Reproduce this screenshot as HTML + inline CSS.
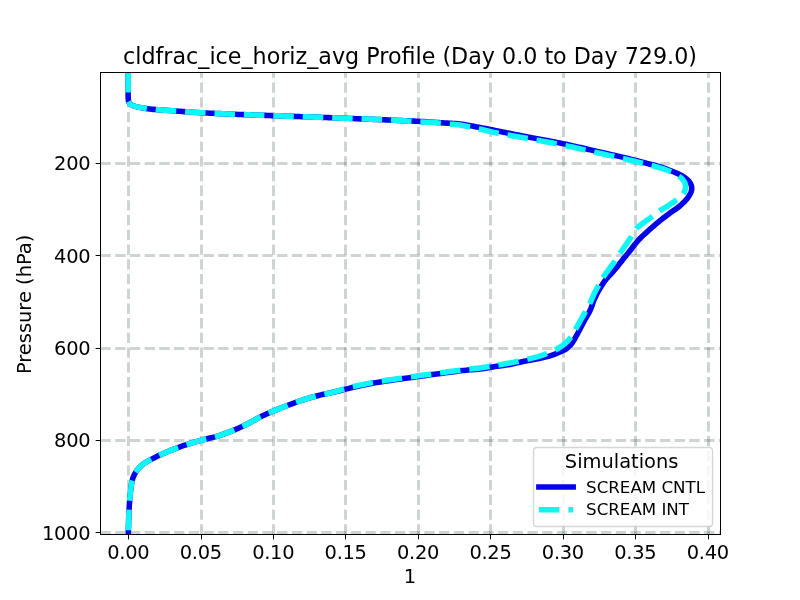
<!DOCTYPE html>
<html lang="en"><head><meta charset="utf-8"><title>cldfrac_ice_horiz_avg Profile</title>
<style>html,body{margin:0;padding:0;background:#fff}svg{display:block;will-change:transform}text{font-family:"DejaVu Sans","Liberation Sans",sans-serif;fill:#000}</style></head><body>
<svg width="800" height="600" viewBox="0 0 800 600">
<rect width="800" height="600" fill="#fff"/>
<defs><clipPath id="ax"><rect x="100" y="72" width="620" height="462"/></clipPath></defs>
<g clip-path="url(#ax)" stroke="#3a4f4f" stroke-opacity="0.25" stroke-width="3" stroke-dasharray="10.278 4.444" fill="none">
<path d="M128.5 534.5V72.5"/>
<path d="M201.5 534.5V72.5"/>
<path d="M273.5 534.5V72.5"/>
<path d="M345.5 534.5V72.5"/>
<path d="M418.5 534.5V72.5"/>
<path d="M490.5 534.5V72.5"/>
<path d="M563.5 534.5V72.5"/>
<path d="M635.5 534.5V72.5"/>
<path d="M708.5 534.5V72.5"/>
<path d="M100.5 163.5H720.5"/>
<path d="M100.5 255.5H720.5"/>
<path d="M100.5 348.5H720.5"/>
<path d="M100.5 440.5H720.5"/>
<path d="M100.5 532.5H720.5"/>
</g>
<g stroke="#000" stroke-width="1" fill="none">
<path d="M128.5 534.5V539.4"/>
<path d="M201.5 534.5V539.4"/>
<path d="M273.5 534.5V539.4"/>
<path d="M345.5 534.5V539.4"/>
<path d="M418.5 534.5V539.4"/>
<path d="M490.5 534.5V539.4"/>
<path d="M563.5 534.5V539.4"/>
<path d="M635.5 534.5V539.4"/>
<path d="M708.5 534.5V539.4"/>
<path d="M100.5 163.5H95.6"/>
<path d="M100.5 255.5H95.6"/>
<path d="M100.5 348.5H95.6"/>
<path d="M100.5 440.5H95.6"/>
<path d="M100.5 532.5H95.6"/>
</g>
<g font-size="19.444" text-anchor="middle">
<text x="128.33" y="558.5" letter-spacing="-0.3">0.00</text>
<text x="200.76" y="558.5" letter-spacing="-0.3">0.05</text>
<text x="273.19" y="558.5" letter-spacing="-0.3">0.10</text>
<text x="345.62" y="558.5" letter-spacing="-0.3">0.15</text>
<text x="418.05" y="558.5" letter-spacing="-0.3">0.20</text>
<text x="490.48" y="558.5" letter-spacing="-0.3">0.25</text>
<text x="562.91" y="558.5" letter-spacing="-0.3">0.30</text>
<text x="635.34" y="558.5" letter-spacing="-0.3">0.35</text>
<text x="707.77" y="558.5" letter-spacing="-0.3">0.40</text>
<text x="410" y="582.87">1</text>
<text transform="translate(31.19 304.4) rotate(-90)">Pressure (hPa)</text>
</g>
<g font-size="19.444" text-anchor="end" letter-spacing="-0.3">
<text x="90.28" y="170.49">200</text>
<text x="90.28" y="262.79">400</text>
<text x="90.28" y="355.09">600</text>
<text x="90.28" y="447.39">800</text>
<text x="90.28" y="539.69">1000</text>
</g>
<g clip-path="url(#ax)" fill="none" stroke-width="5.556" stroke-linejoin="round">
<path d="M128.18 72.00 L128.18 74.04 L128.18 76.14 L128.18 78.27 L128.18 80.40 L128.18 82.49 L128.18 84.53 L128.18 86.48 L128.18 88.32 L128.18 90.00 L128.17 92.31 L128.14 94.42 L128.14 96.32 L128.18 98.00 L128.50 101.30 L129.80 103.80 L133.00 105.60 L135.28 106.35 L138.00 107.00 L139.66 107.35 L141.49 107.70 L143.48 108.05 L145.57 108.39 L147.76 108.71 L150.00 109.00 L151.79 109.21 L153.67 109.39 L155.62 109.57 L157.63 109.73 L159.68 109.88 L161.75 110.03 L163.84 110.17 L165.92 110.31 L167.98 110.45 L170.00 110.60 L172.02 110.75 L174.07 110.90 L176.15 111.05 L178.22 111.20 L180.29 111.34 L182.34 111.48 L184.34 111.62 L186.30 111.75 L188.19 111.88 L190.00 112.00 L192.17 112.15 L194.13 112.28 L196.01 112.41 L197.94 112.53 L200.06 112.66 L202.50 112.80 L204.08 112.89 L205.78 112.97 L207.57 113.06 L209.46 113.16 L211.43 113.25 L213.47 113.35 L215.57 113.45 L217.72 113.55 L219.92 113.65 L222.15 113.75 L224.40 113.85 L226.67 113.94 L228.93 114.04 L231.20 114.14 L233.45 114.23 L235.67 114.32 L237.86 114.41 L240.00 114.50 L241.96 114.58 L243.90 114.65 L245.84 114.73 L247.76 114.80 L249.68 114.87 L251.60 114.93 L253.52 115.00 L255.44 115.07 L257.37 115.13 L259.31 115.20 L261.27 115.26 L263.24 115.33 L265.23 115.40 L267.25 115.46 L269.29 115.53 L271.36 115.60 L273.46 115.67 L275.60 115.75 L277.78 115.82 L280.00 115.90 L281.80 115.96 L283.64 116.03 L285.51 116.10 L287.41 116.16 L289.34 116.23 L291.29 116.30 L293.27 116.37 L295.27 116.44 L297.30 116.51 L299.34 116.58 L301.39 116.66 L303.46 116.73 L305.55 116.80 L307.64 116.88 L309.75 116.95 L311.86 117.03 L313.97 117.10 L316.09 117.18 L318.21 117.26 L320.33 117.33 L322.45 117.41 L324.56 117.49 L326.67 117.56 L328.76 117.64 L330.85 117.72 L332.92 117.79 L334.98 117.87 L337.03 117.95 L339.05 118.02 L341.06 118.10 L343.04 118.17 L345.00 118.25 L347.13 118.33 L349.29 118.42 L351.46 118.50 L353.65 118.59 L355.85 118.67 L358.05 118.76 L360.26 118.85 L362.48 118.94 L364.68 119.03 L366.88 119.12 L369.08 119.21 L371.25 119.30 L373.42 119.38 L375.56 119.47 L377.68 119.56 L379.77 119.65 L381.83 119.73 L383.85 119.82 L385.84 119.90 L387.79 119.98 L389.70 120.06 L391.55 120.14 L393.36 120.22 L395.11 120.29 L396.80 120.36 L398.43 120.43 L400.00 120.50 L402.39 120.60 L404.60 120.69 L406.66 120.78 L408.62 120.86 L410.49 120.94 L412.33 121.02 L414.16 121.10 L416.03 121.19 L417.96 121.29 L420.00 121.40 L421.97 121.51 L424.00 121.64 L426.08 121.77 L428.19 121.91 L430.32 122.05 L432.44 122.19 L434.56 122.34 L436.66 122.48 L438.71 122.62 L440.71 122.76 L442.65 122.88 L444.50 123.00 L446.90 123.13 L449.20 123.23 L451.42 123.31 L453.59 123.41 L455.72 123.52 L457.85 123.68 L460.00 123.90 L462.10 124.18 L464.17 124.51 L466.23 124.88 L468.28 125.28 L470.34 125.69 L472.41 126.10 L474.50 126.50 L476.72 126.91 L478.99 127.32 L481.29 127.74 L483.57 128.17 L485.81 128.59 L487.96 129.00 L490.00 129.40 L492.07 129.82 L493.94 130.22 L495.78 130.61 L497.75 131.03 L500.00 131.50 L501.67 131.84 L503.45 132.19 L505.33 132.57 L507.29 132.95 L509.34 133.35 L511.45 133.77 L513.62 134.19 L515.84 134.62 L518.10 135.06 L520.38 135.50 L522.69 135.95 L525.00 136.40 L526.85 136.76 L528.75 137.12 L530.69 137.49 L532.68 137.86 L534.69 138.24 L536.74 138.62 L538.81 139.01 L540.91 139.40 L543.02 139.80 L545.14 140.19 L547.27 140.60 L549.40 141.00 L551.53 141.41 L553.65 141.82 L555.76 142.23 L557.86 142.65 L559.93 143.06 L561.98 143.48 L564.00 143.90 L566.04 144.33 L568.10 144.77 L570.16 145.23 L572.24 145.68 L574.32 146.15 L576.40 146.62 L578.47 147.09 L580.53 147.56 L582.58 148.04 L584.61 148.51 L586.62 148.97 L588.60 149.44 L590.56 149.89 L592.47 150.34 L594.35 150.77 L596.18 151.20 L597.97 151.61 L599.70 152.00 L601.97 152.51 L604.17 153.01 L606.30 153.48 L608.36 153.95 L610.38 154.40 L612.35 154.84 L614.29 155.28 L616.21 155.72 L618.11 156.16 L620.00 156.60 L622.35 157.16 L624.65 157.71 L626.91 158.26 L629.13 158.81 L631.30 159.35 L633.43 159.88 L635.50 160.40 L637.90 161.01 L640.19 161.61 L642.43 162.20 L644.68 162.79 L647.00 163.40 L649.12 163.94 L651.26 164.46 L653.43 164.99 L655.62 165.55 L657.81 166.14 L660.00 166.80 L662.03 167.46 L664.12 168.19 L666.24 168.96 L668.33 169.74 L670.35 170.53 L672.26 171.29 L674.00 172.00 L676.57 173.08 L678.87 174.11 L681.00 175.20 L683.64 176.79 L686.00 178.50 L687.90 180.17 L689.50 182.00 L690.70 183.94 L691.50 186.00 L691.75 187.99 L691.60 190.00 L691.07 192.00 L690.20 194.00 L688.75 196.43 L687.00 198.80 L685.09 200.94 L683.00 203.00 L681.44 204.50 L679.80 206.00 L678.00 207.50 L676.17 208.84 L674.18 210.17 L672.10 211.54 L670.00 213.00 L668.39 214.19 L666.73 215.43 L665.05 216.72 L663.35 218.03 L661.67 219.36 L660.00 220.70 L658.32 222.07 L656.64 223.46 L654.98 224.87 L653.31 226.30 L651.65 227.74 L650.00 229.20 L648.28 230.74 L646.51 232.32 L644.75 233.93 L643.05 235.52 L641.45 237.05 L640.00 238.50 L638.17 240.46 L636.58 242.30 L635.00 244.20 L633.76 245.76 L632.56 247.35 L631.32 248.98 L630.00 250.70 L628.61 252.45 L627.13 254.29 L625.59 256.18 L624.04 258.09 L622.50 260.00 L621.19 261.65 L619.88 263.31 L618.56 264.99 L617.23 266.67 L615.88 268.34 L614.50 270.00 L613.02 271.67 L611.48 273.33 L609.92 274.98 L608.37 276.63 L606.88 278.30 L605.50 280.00 L604.06 281.96 L602.70 283.94 L601.41 285.95 L600.18 287.97 L599.00 290.00 L597.90 291.98 L596.85 293.97 L595.85 295.97 L594.90 297.98 L594.00 300.00 L593.21 301.99 L592.52 304.00 L591.84 306.01 L591.13 308.02 L590.30 310.00 L589.29 312.02 L588.17 314.02 L587.00 316.01 L585.83 318.00 L584.70 320.00 L583.64 322.00 L582.61 324.00 L581.58 326.00 L580.55 328.00 L579.50 330.00 L578.40 332.06 L577.28 334.18 L576.15 336.27 L575.05 338.23 L574.00 340.00 L572.84 341.85 L571.73 343.48 L570.50 345.00 L569.12 346.45 L567.62 347.79 L566.00 349.00 L564.16 350.09 L562.17 351.05 L560.00 352.00 L558.19 352.78 L556.25 353.57 L554.21 354.36 L552.12 355.11 L550.00 355.80 L548.09 356.36 L546.13 356.87 L544.14 357.36 L542.12 357.81 L540.07 358.26 L538.00 358.70 L536.06 359.10 L534.08 359.47 L532.08 359.83 L530.06 360.18 L528.03 360.54 L526.01 360.91 L524.00 361.30 L522.00 361.73 L520.01 362.18 L518.03 362.64 L516.04 363.11 L514.04 363.57 L512.03 364.00 L510.00 364.40 L507.89 364.77 L505.76 365.10 L503.61 365.40 L501.46 365.70 L499.30 365.99 L497.15 366.28 L495.00 366.60 L492.85 366.94 L490.70 367.31 L488.55 367.68 L486.40 368.04 L484.25 368.39 L482.12 368.72 L480.00 369.00 L478.02 369.22 L476.12 369.39 L474.24 369.53 L472.33 369.66 L470.36 369.80 L468.26 369.98 L466.00 370.20 L464.23 370.40 L462.36 370.61 L460.41 370.85 L458.38 371.10 L456.28 371.37 L454.14 371.65 L451.96 371.93 L449.75 372.23 L447.52 372.53 L445.30 372.83 L443.08 373.13 L440.88 373.42 L438.72 373.72 L436.60 374.00 L434.52 374.28 L432.45 374.56 L430.37 374.84 L428.30 375.12 L426.23 375.40 L424.16 375.69 L422.09 375.97 L420.02 376.26 L417.95 376.55 L415.88 376.84 L413.81 377.13 L411.74 377.42 L409.67 377.71 L407.60 378.00 L405.50 378.30 L403.34 378.60 L401.14 378.91 L398.92 379.22 L396.69 379.53 L394.47 379.84 L392.26 380.15 L390.09 380.46 L387.97 380.77 L385.91 381.07 L383.93 381.37 L382.04 381.65 L380.26 381.93 L378.60 382.20 L376.02 382.63 L373.77 383.03 L371.67 383.42 L369.54 383.83 L367.20 384.30 L365.22 384.71 L363.17 385.14 L361.06 385.60 L358.90 386.07 L356.69 386.56 L354.47 387.07 L352.23 387.58 L350.00 388.10 L348.00 388.58 L345.88 389.09 L343.69 389.64 L341.47 390.20 L339.26 390.76 L337.11 391.30 L335.07 391.81 L333.17 392.27 L331.47 392.67 L330.00 393.00 L327.52 393.44 L325.00 393.90 L323.53 394.24 L321.80 394.66 L319.85 395.15 L317.74 395.69 L315.51 396.28 L313.21 396.90 L310.88 397.54 L308.56 398.20 L306.32 398.85 L304.18 399.49 L302.20 400.10 L300.01 400.81 L297.88 401.55 L295.79 402.29 L293.76 403.05 L291.76 403.80 L289.80 404.55 L287.89 405.28 L286.00 406.00 L283.90 406.79 L281.88 407.56 L279.91 408.31 L277.97 409.07 L276.01 409.86 L274.00 410.70 L272.13 411.50 L270.23 412.33 L268.33 413.19 L266.42 414.06 L264.50 414.95 L262.60 415.87 L260.70 416.80 L258.78 417.79 L256.86 418.81 L254.95 419.87 L253.05 420.93 L251.14 421.99 L249.22 423.01 L247.30 424.00 L245.42 424.93 L243.55 425.83 L241.69 426.71 L239.81 427.58 L237.91 428.43 L235.98 429.27 L234.00 430.10 L232.08 430.88 L230.13 431.67 L228.14 432.45 L226.12 433.21 L224.09 433.95 L222.06 434.67 L220.02 435.36 L218.00 436.00 L216.01 436.58 L214.02 437.11 L212.01 437.60 L210.01 438.06 L208.00 438.52 L206.00 438.99 L204.00 439.48 L202.00 440.00 L199.99 440.56 L197.99 441.12 L195.99 441.70 L193.98 442.29 L191.98 442.89 L189.99 443.51 L187.99 444.15 L186.00 444.80 L183.99 445.48 L181.98 446.17 L179.98 446.88 L177.98 447.61 L175.98 448.35 L173.98 449.12 L171.99 449.90 L170.00 450.70 L167.96 451.54 L165.90 452.41 L163.83 453.31 L161.77 454.22 L159.73 455.14 L157.75 456.07 L155.83 456.99 L154.00 457.90 L152.04 458.89 L150.13 459.87 L148.29 460.84 L146.53 461.84 L144.86 462.89 L143.30 464.00 L141.41 465.55 L139.68 467.18 L138.11 468.89 L136.70 470.70 L135.48 472.56 L134.41 474.51 L133.49 476.55 L132.70 478.70 L132.14 480.68 L131.72 482.74 L131.38 484.87 L131.09 487.07 L130.80 489.30 L130.53 491.42 L130.28 493.60 L130.06 495.82 L129.86 498.08 L129.68 500.38 L129.50 502.70 L129.37 504.63 L129.25 506.61 L129.14 508.61 L129.03 510.63 L128.94 512.66 L128.86 514.69 L128.78 516.71 L128.70 518.70 L128.62 520.90 L128.56 523.10 L128.50 525.28 L128.45 527.46 L128.40 529.64 L128.35 531.82 L128.30 534.00" stroke="#0503e8" stroke-linecap="square"/>
<path d="M128.18 72.00 L128.18 74.04 L128.18 76.14 L128.18 78.27 L128.18 80.40 L128.18 82.49 L128.18 84.53 L128.18 86.48 L128.18 88.32 L128.18 90.00 L128.17 92.31 L128.14 94.42 L128.14 96.32 L128.18 98.00 L128.50 101.30 L129.80 103.80 L133.00 105.60 L135.28 106.35 L138.00 107.00 L139.66 107.35 L141.49 107.70 L143.48 108.05 L145.57 108.39 L147.76 108.71 L150.00 109.00 L151.79 109.21 L153.67 109.39 L155.62 109.57 L157.63 109.73 L159.68 109.88 L161.75 110.03 L163.84 110.17 L165.92 110.31 L167.98 110.45 L170.00 110.60 L172.02 110.75 L174.07 110.90 L176.15 111.05 L178.22 111.20 L180.29 111.34 L182.34 111.48 L184.34 111.62 L186.30 111.75 L188.19 111.88 L190.00 112.00 L192.17 112.15 L194.13 112.28 L196.01 112.41 L197.94 112.53 L200.06 112.66 L202.50 112.80 L204.08 112.89 L205.78 112.97 L207.57 113.06 L209.46 113.16 L211.43 113.25 L213.47 113.35 L215.57 113.45 L217.72 113.55 L219.92 113.65 L222.15 113.75 L224.40 113.85 L226.67 113.94 L228.93 114.04 L231.20 114.14 L233.45 114.23 L235.67 114.32 L237.86 114.41 L240.00 114.50 L241.96 114.58 L243.90 114.65 L245.84 114.73 L247.76 114.80 L249.68 114.87 L251.60 114.93 L253.52 115.00 L255.44 115.07 L257.37 115.13 L259.31 115.20 L261.27 115.26 L263.24 115.33 L265.23 115.40 L267.25 115.46 L269.29 115.53 L271.36 115.60 L273.46 115.67 L275.60 115.75 L277.78 115.82 L280.00 115.90 L281.80 115.96 L283.64 116.03 L285.51 116.10 L287.41 116.16 L289.34 116.23 L291.29 116.30 L293.27 116.37 L295.27 116.44 L297.30 116.51 L299.34 116.58 L301.39 116.66 L303.46 116.73 L305.55 116.80 L307.64 116.88 L309.75 116.95 L311.86 117.03 L313.97 117.10 L316.09 117.18 L318.21 117.26 L320.33 117.33 L322.45 117.41 L324.56 117.49 L326.67 117.56 L328.76 117.64 L330.85 117.72 L332.92 117.79 L334.98 117.87 L337.03 117.95 L339.05 118.02 L341.06 118.10 L343.04 118.17 L345.00 118.25 L347.13 118.33 L349.29 118.41 L351.46 118.49 L353.65 118.58 L355.85 118.66 L358.05 118.74 L360.27 118.82 L362.48 118.90 L364.68 118.98 L366.89 119.06 L369.08 119.15 L371.26 119.23 L373.42 119.31 L375.56 119.39 L377.68 119.48 L379.77 119.56 L381.83 119.64 L383.86 119.73 L385.85 119.81 L387.79 119.89 L389.70 119.98 L391.56 120.06 L393.36 120.15 L395.11 120.24 L396.80 120.32 L398.43 120.41 L400.00 120.50 L402.43 120.65 L404.75 120.81 L406.95 120.98 L409.04 121.15 L411.05 121.32 L412.97 121.49 L414.82 121.64 L416.60 121.78 L418.32 121.90 L420.00 122.00 L422.19 122.09 L424.15 122.13 L426.02 122.16 L427.93 122.21 L430.00 122.30 L431.98 122.43 L434.07 122.59 L436.22 122.77 L438.41 122.98 L440.63 123.18 L442.83 123.39 L445.00 123.60 L447.14 123.79 L449.29 123.97 L451.43 124.16 L453.58 124.35 L455.72 124.57 L457.86 124.81 L460.00 125.10 L462.15 125.44 L464.29 125.81 L466.44 126.21 L468.58 126.64 L470.72 127.09 L472.86 127.54 L475.00 128.00 L477.17 128.48 L479.38 128.99 L481.59 129.51 L483.78 130.04 L485.93 130.56 L488.02 131.05 L490.00 131.50 L492.05 131.95 L493.92 132.36 L495.77 132.75 L497.74 133.16 L500.00 133.60 L501.67 133.92 L503.45 134.24 L505.33 134.58 L507.29 134.92 L509.34 135.27 L511.45 135.64 L513.62 136.01 L515.84 136.39 L518.10 136.78 L520.38 137.18 L522.69 137.58 L525.00 138.00 L526.85 138.34 L528.75 138.68 L530.70 139.03 L532.68 139.39 L534.70 139.75 L536.74 140.12 L538.82 140.50 L540.91 140.88 L543.02 141.26 L545.14 141.66 L547.27 142.05 L549.40 142.45 L551.53 142.85 L553.65 143.25 L555.76 143.66 L557.86 144.07 L559.93 144.48 L561.98 144.89 L564.00 145.30 L566.04 145.72 L568.10 146.16 L570.16 146.60 L572.24 147.06 L574.32 147.52 L576.40 147.98 L578.47 148.45 L580.53 148.92 L582.58 149.38 L584.61 149.85 L586.62 150.31 L588.60 150.77 L590.56 151.22 L592.47 151.66 L594.35 152.09 L596.18 152.51 L597.97 152.91 L599.70 153.30 L601.97 153.80 L604.17 154.29 L606.30 154.76 L608.36 155.21 L610.38 155.65 L612.35 156.08 L614.29 156.51 L616.21 156.94 L618.11 157.37 L620.00 157.80 L622.35 158.34 L624.65 158.89 L626.91 159.43 L629.13 159.96 L631.30 160.48 L633.43 161.00 L635.50 161.50 L637.90 162.08 L640.19 162.62 L642.43 163.16 L644.68 163.72 L647.00 164.30 L649.16 164.85 L651.40 165.43 L653.65 166.02 L655.88 166.62 L658.01 167.22 L660.00 167.80 L662.16 168.46 L664.17 169.11 L666.10 169.77 L668.00 170.50 L670.43 171.53 L672.79 172.65 L675.00 173.80 L677.64 175.34 L680.00 177.00 L681.91 178.65 L683.50 180.50 L684.74 182.69 L685.50 185.00 L685.59 187.03 L685.30 189.00 L684.00 192.50 L682.65 194.29 L681.00 196.00 L679.10 197.76 L677.00 199.50 L675.26 200.83 L673.41 202.17 L671.50 203.50 L669.35 204.94 L667.14 206.38 L665.00 207.70 L662.51 209.05 L660.00 210.50 L658.21 211.78 L656.33 213.27 L654.41 214.82 L652.50 216.30 L650.64 217.65 L648.78 218.97 L646.90 220.30 L645.00 221.70 L643.27 222.97 L641.47 224.26 L639.68 225.60 L638.00 227.01 L636.50 228.50 L635.06 230.39 L633.85 232.41 L632.71 234.47 L631.50 236.50 L630.16 238.51 L628.78 240.51 L627.39 242.50 L626.00 244.50 L624.62 246.49 L623.24 248.48 L621.87 250.48 L620.50 252.50 L619.40 254.19 L618.30 255.91 L617.21 257.63 L616.11 259.34 L615.00 261.00 L613.64 262.92 L612.26 264.79 L610.88 266.64 L609.50 268.50 L608.11 270.36 L606.71 272.20 L605.33 274.07 L604.00 276.00 L602.70 278.06 L601.45 280.16 L600.22 282.31 L599.00 284.50 L597.97 286.36 L596.94 288.26 L595.93 290.18 L594.94 292.10 L594.00 294.00 L592.95 296.28 L591.97 298.57 L591.00 300.82 L590.00 303.00 L589.03 304.92 L588.05 306.76 L587.04 308.60 L586.00 310.50 L585.04 312.25 L584.05 314.05 L583.03 315.87 L582.01 317.70 L581.00 319.50 L580.00 321.27 L579.00 323.03 L578.00 324.79 L577.00 326.55 L576.00 328.30 L575.02 330.07 L574.07 331.87 L573.10 333.65 L572.09 335.38 L571.00 337.00 L569.63 338.77 L568.18 340.43 L566.64 342.00 L565.00 343.50 L563.15 345.00 L561.18 346.42 L559.12 347.75 L557.00 349.00 L555.18 349.97 L553.30 350.87 L551.37 351.72 L549.43 352.52 L547.50 353.30 L545.64 354.03 L543.81 354.71 L541.95 355.35 L540.03 355.98 L538.00 356.60 L536.15 357.12 L534.21 357.63 L532.20 358.12 L530.15 358.61 L528.09 359.08 L526.03 359.55 L524.00 360.00 L522.01 360.44 L520.02 360.87 L518.03 361.30 L516.04 361.71 L514.04 362.11 L512.03 362.51 L510.00 362.90 L507.89 363.29 L505.76 363.68 L503.61 364.05 L501.46 364.42 L499.30 364.78 L497.15 365.14 L495.00 365.50 L492.85 365.86 L490.70 366.22 L488.55 366.58 L486.40 366.93 L484.25 367.27 L482.12 367.60 L480.00 367.90 L478.02 368.16 L476.12 368.38 L474.24 368.59 L472.34 368.79 L470.36 369.00 L468.26 369.23 L466.00 369.50 L464.23 369.72 L462.36 369.95 L460.41 370.19 L458.38 370.45 L456.29 370.72 L454.14 370.99 L451.96 371.28 L449.75 371.56 L447.53 371.85 L445.30 372.15 L443.08 372.44 L440.88 372.73 L438.72 373.02 L436.60 373.30 L434.52 373.58 L432.45 373.86 L430.37 374.14 L428.30 374.42 L426.23 374.70 L424.16 374.99 L422.09 375.27 L420.02 375.56 L417.95 375.85 L415.88 376.14 L413.81 376.43 L411.74 376.72 L409.67 377.01 L407.60 377.30 L405.50 377.60 L403.34 377.90 L401.14 378.21 L398.92 378.52 L396.69 378.83 L394.47 379.14 L392.26 379.45 L390.09 379.76 L387.97 380.07 L385.91 380.37 L383.93 380.67 L382.04 380.95 L380.26 381.23 L378.60 381.50 L376.02 381.93 L373.77 382.33 L371.67 382.72 L369.54 383.13 L367.20 383.60 L365.22 384.00 L363.17 384.43 L361.06 384.87 L358.89 385.34 L356.69 385.82 L354.46 386.33 L352.23 386.85 L350.00 387.40 L348.00 387.92 L345.88 388.50 L343.68 389.13 L341.46 389.77 L339.26 390.42 L337.11 391.05 L335.07 391.64 L333.18 392.18 L331.47 392.64 L330.00 393.00 L327.52 393.45 L325.00 393.90 L323.53 394.24 L321.80 394.66 L319.85 395.15 L317.74 395.69 L315.51 396.28 L313.21 396.90 L310.88 397.54 L308.56 398.20 L306.32 398.85 L304.18 399.49 L302.20 400.10 L300.01 400.81 L297.88 401.55 L295.79 402.29 L293.76 403.05 L291.76 403.80 L289.80 404.55 L287.89 405.28 L286.00 406.00 L283.90 406.79 L281.88 407.56 L279.91 408.31 L277.97 409.07 L276.01 409.86 L274.00 410.70 L272.13 411.50 L270.23 412.33 L268.33 413.19 L266.42 414.06 L264.50 414.95 L262.60 415.87 L260.70 416.80 L258.78 417.79 L256.86 418.81 L254.95 419.87 L253.05 420.93 L251.14 421.99 L249.22 423.01 L247.30 424.00 L245.42 424.93 L243.55 425.83 L241.69 426.71 L239.81 427.58 L237.91 428.43 L235.98 429.27 L234.00 430.10 L232.08 430.88 L230.13 431.67 L228.14 432.45 L226.12 433.21 L224.09 433.95 L222.06 434.67 L220.02 435.36 L218.00 436.00 L216.01 436.58 L214.02 437.11 L212.01 437.60 L210.01 438.06 L208.00 438.52 L206.00 438.99 L204.00 439.48 L202.00 440.00 L199.99 440.56 L197.99 441.12 L195.99 441.70 L193.98 442.29 L191.98 442.89 L189.99 443.51 L187.99 444.15 L186.00 444.80 L183.99 445.48 L181.98 446.17 L179.98 446.88 L177.98 447.61 L175.98 448.35 L173.98 449.12 L171.99 449.90 L170.00 450.70 L167.96 451.54 L165.90 452.41 L163.83 453.31 L161.77 454.22 L159.73 455.14 L157.75 456.07 L155.83 456.99 L154.00 457.90 L152.04 458.89 L150.13 459.87 L148.29 460.84 L146.53 461.84 L144.86 462.89 L143.30 464.00 L141.41 465.55 L139.68 467.18 L138.11 468.89 L136.70 470.70 L135.48 472.56 L134.41 474.51 L133.49 476.55 L132.70 478.70 L132.14 480.68 L131.72 482.74 L131.38 484.87 L131.09 487.07 L130.80 489.30 L130.53 491.42 L130.28 493.60 L130.06 495.82 L129.86 498.08 L129.68 500.38 L129.50 502.70 L129.37 504.63 L129.25 506.61 L129.14 508.61 L129.03 510.63 L128.94 512.66 L128.86 514.69 L128.78 516.71 L128.70 518.70 L128.62 520.90 L128.56 523.10 L128.50 525.28 L128.45 527.46 L128.40 529.64 L128.35 531.82 L128.30 534.00" stroke="#0ff5f8" stroke-dasharray="20.556 8.889"/>
</g>
<rect x="100.5" y="72.5" width="620" height="462" fill="none" stroke="#000" stroke-width="1"/>
<text x="410" y="63.67" font-size="22.222" text-anchor="middle">cldfrac_ice_horiz_avg Profile (Day 0.0 to Day 729.0)</text>
<rect x="533.50" y="447.50" width="179.00" height="79.00" rx="3.33" fill="#fff" fill-opacity="0.8" stroke="#ccc" stroke-opacity="0.8" stroke-width="1.389"/>
<text x="564.8" y="467.9" font-size="19.444">Simulations</text>
<path d="M538.9 487.00H573.17" stroke="#0503e8" stroke-width="5.556" stroke-linecap="square" fill="none"/>
<path d="M538.9 509.75H573.17" stroke="#0ff5f8" stroke-width="5.556" stroke-dasharray="20.556 8.889" fill="none"/>
<g font-size="16.667"><text x="586.1" y="492.80">SCREAM CNTL</text><text x="586.1" y="515.00">SCREAM INT</text></g>
</svg></body></html>
